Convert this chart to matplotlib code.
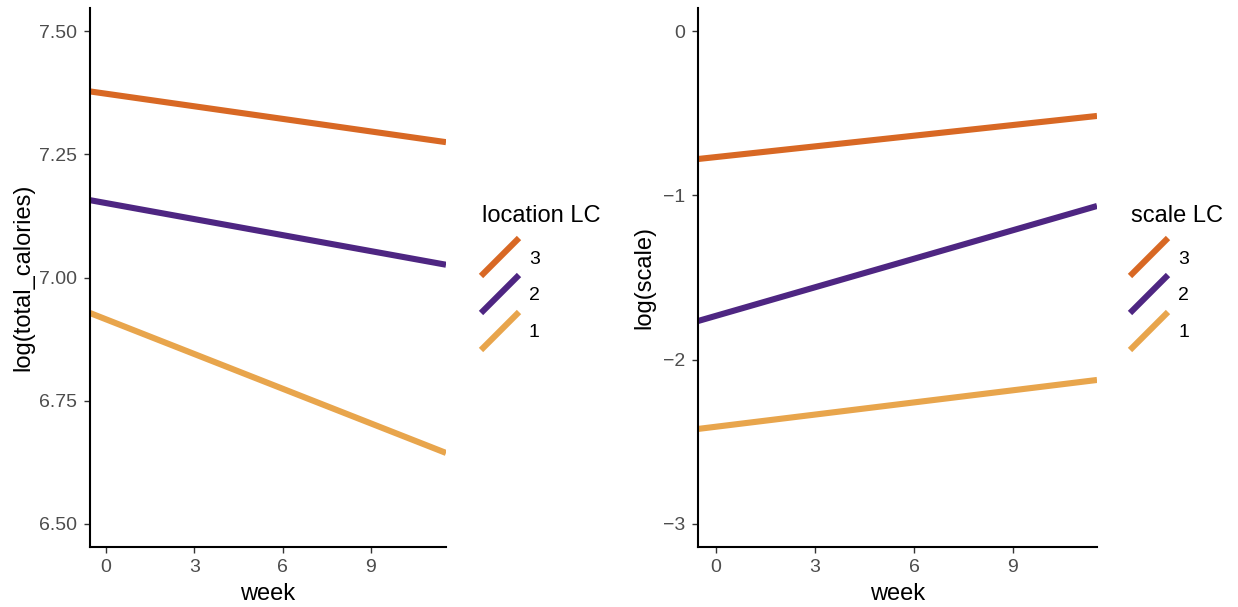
import matplotlib
matplotlib.use("Agg")
import matplotlib.pyplot as plt
from matplotlib.lines import Line2D

plt.rcParams['font.family'] = ['Liberation Sans', 'DejaVu Sans']

# data: straight fits, intercept at week 0 and slope per week
classes = ["3", "2", "1"]
colours = ["#D86824", "#4E2682", "#E8A54C"]
loc_intercept = [7.373, 7.151, 6.915]
loc_slope = [-0.00851, -0.01083, -0.02347]
scale_intercept = [-0.767, -1.733, -2.408]
scale_slope = [0.02165, 0.05785, 0.02463]

week_ticks = [0, 3, 6, 9]
loc_ticks = [6.50, 6.75, 7.00, 7.25, 7.50]
scale_ticks = [-3, -2, -1, 0]

W, H = 1238, 607
fig = plt.figure(figsize=(W / 100, H / 100), dpi=100)

def px(x, y):  # pixel -> figure fraction
    return x / W, 1 - y / H

def style(ax):
    for s in ["top", "right"]:
        ax.spines[s].set_visible(False)
    for s in ["left", "bottom"]:
        ax.spines[s].set_linewidth(1.5)
    ax.tick_params(length=4, width=1, color="#333333", labelcolor="#4D4D4D",
                   labelsize=14, pad=5)
    ax.set_xlim(-0.55, 11.55)
    ax.set_xticks(week_ticks)
    ax.set_xlabel("week", fontsize=17, labelpad=5)

ax1 = fig.add_axes([90 / W, 60 / H, 356 / W, 539 / H])
for b, m, c in zip(loc_intercept, loc_slope, colours):
    ax1.axline((0, b), slope=m, color=c, lw=4.4, solid_capstyle="butt")
style(ax1)
ax1.set_ylim(6.453, 7.547)
ax1.set_yticks(loc_ticks)
ax1.set_yticklabels(["%.2f" % v for v in loc_ticks])
ax1.set_ylabel("log(total_calories)", fontsize=17, labelpad=4)

ax2 = fig.add_axes([698 / W, 60 / H, 399 / W, 539 / H])
for b, m, c in zip(scale_intercept, scale_slope, colours):
    ax2.axline((0, b), slope=m, color=c, lw=4.4, solid_capstyle="butt")
style(ax2)
ax2.set_ylim(-3.14, 0.14)
ax2.set_yticks(scale_ticks)
ax2.set_ylabel("log(scale)", fontsize=17, labelpad=6)

# legends drawn by hand with diagonal keys like ggplot's abline keys
def legend(x0, title):
    fig.text(*px(x0 + 1, 216), title, fontsize=17, va="center", ha="left")
    for i, (lab, c) in enumerate(zip(classes, colours)):
        yc = 257 + 37 * i
        x_a, y_a = px(x0, yc + 19)
        x_b, y_b = px(x0 + 38, yc - 19)
        fig.add_artist(Line2D([x_a, x_b], [y_a, y_b], transform=fig.transFigure,
                              color=c, lw=4.4, solid_capstyle="butt"))
        fig.text(*px(x0 + 48, yc + 2), lab, fontsize=14, va="center", ha="left")

legend(481, "location LC")
legend(1130, "scale LC")

fig.savefig("out.png", dpi=100)
